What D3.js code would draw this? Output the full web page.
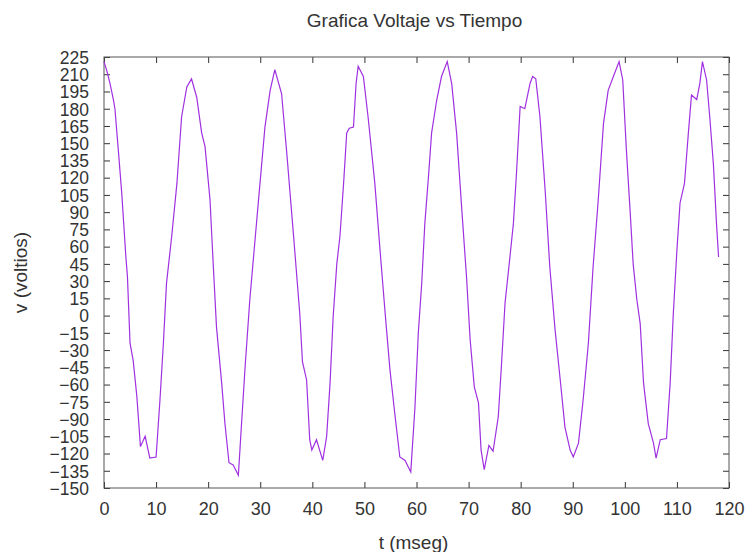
<!DOCTYPE html>
<html>
<head>
<meta charset="utf-8">
<script src="https://cdn.jsdelivr.net/npm/d3@7"></script>
<style>
  body { margin: 0; background: #fff; }
  svg { font-family: "Liberation Sans", Arial, sans-serif; }
</style>
</head>
<body>
<div id="chart"></div>
<script>
// time (ms)
const tiempo = [
  0, 0.6, 1.15, 1.8, 2.1, 2.75, 3.4, 4.2, 4.5, 5.0,
  5.6, 6.3, 7.0, 7.9, 8.8, 10.0, 10.75, 11.4, 12.0, 13.0,
  14.0, 14.9, 15.9, 16.8, 17.8, 18.75, 19.4, 20.35, 21.0, 21.6,
  22.6, 23.2, 24.0, 24.8, 25.8, 26.3, 27.1, 28.0, 29.0, 29.95,
  30.9, 31.9, 32.8, 34.1, 35.1, 36.35, 37.6, 38.1, 38.9, 39.5,
  39.9, 40.8, 42.0, 42.75, 43.4, 44.0, 44.7, 45.3, 46.0, 46.6,
  47.1, 47.9, 48.4, 48.8, 49.8, 50.7, 52.0, 53.0, 54.0, 54.9,
  55.9, 56.8, 57.8, 58.9, 59.7, 60.35, 61.0, 61.6, 62.3, 62.9,
  63.9, 64.8, 65.9, 66.75, 67.7, 68.7, 69.6, 70.3, 71.1, 71.9,
  72.4, 73.0, 73.9, 74.7, 75.7, 76.3, 77.0, 77.8, 78.6, 79.2,
  79.9, 80.8, 81.8, 82.3, 82.9, 83.7, 84.7, 85.6, 86.6, 87.6,
  88.5, 89.5, 90.1, 91.1, 92.0, 93.0, 93.9, 94.9, 95.9, 96.8,
  97.8, 98.9, 99.6, 100.3, 101.0, 101.6, 102.3, 102.95, 103.6, 104.5,
  105.5, 106.0, 106.8, 108.0, 108.7, 109.3, 110.0, 110.6, 111.45, 112.2,
  112.8, 113.8, 114.4, 114.9, 115.7, 116.3, 117.0, 117.6, 118.0
];

// voltage (V)
const voltaje = [
  221, 212, 202, 188, 180, 144, 107, 51, 34, -24,
  -39, -70, -114, -105, -124, -123, -73, -24, 28, 69,
  115, 173, 199, 206, 190, 159, 147, 101, 42, -10,
  -59, -93, -128, -130, -139, -102, -44, 14, 66, 115,
  164, 196, 214, 193, 141, 72, 1, -40, -56, -108,
  -117, -108, -126, -105, -59, -1, 45, 69, 115, 159,
  163, 164, 202, 217, 208, 173, 115, 57, 1, -47,
  -88, -123, -126, -136, -80, -15, 28, 80, 121, 159,
  188, 208, 221, 202, 159, 92, 34, -21, -62, -76,
  -117, -134, -113, -118, -88, -44, 11, 45, 80, 124,
  182, 180, 202, 208, 206, 173, 109, 42, -12, -56,
  -97, -117, -123, -111, -73, -24, 42, 101, 167, 196,
  208, 221, 205, 144, 92, 45, 14, -7, -59, -94,
  -111, -124, -108, -107, -59, 1, 57, 98, 115, 159,
  192, 188, 202, 221, 205, 173, 132, 80, 51
];

const xTicks = d3.range(0, 121, 10);
const yTicks = d3.range(-150, 226, 15);

const data = tiempo.map((t, i) => ({t: t, v: voltaje[i]}));

const margin = {top: 57, right: 16, bottom: 64, left: 104};
const width = 745 - margin.left - margin.right;
const height = 552 - margin.top - margin.bottom;

const svg = d3.select('#chart')
  .append('svg')
  .attr('width', 745)
  .attr('height', 552);

const g = svg.append('g')
  .attr('transform', `translate(${margin.left},${margin.top})`);

const x = d3.scaleLinear().domain([0, 120]).range([0, width]);
const y = d3.scaleLinear().domain([-150, 225]).range([height, 0]);

// axes, ticks pointing inward like gnuplot
const xAxis = g.append('g')
  .attr('transform', `translate(0,${height})`)
  .call(d3.axisBottom(x).tickValues(xTicks).tickSize(-6).tickPadding(14));

const yAxis = g.append('g')
  .call(d3.axisLeft(y).tickValues(yTicks).tickSize(-6).tickPadding(15));

// mirrored ticks
const xTop = g.append('g')
  .call(d3.axisTop(x).tickValues(xTicks).tickSize(-6).tickFormat(''));

const yRight = g.append('g')
  .attr('transform', `translate(${width},0)`)
  .call(d3.axisRight(y).tickValues(yTicks).tickSize(-6).tickFormat(''));

[xAxis, yAxis, xTop, yRight].forEach(a => {
  a.select('.domain').remove();
  a.selectAll('line').attr('stroke', '#333');
  a.selectAll('text')
    .attr('fill', '#333')
    .style('font-size', '17.5px')
    .style('font-family', '"Liberation Sans", Arial, sans-serif');
});

xAxis.selectAll('text').style('font-size', '18px');
yAxis.selectAll('text').attr('dy', '0.36em');

// border
g.append('rect')
  .attr('width', width)
  .attr('height', height)
  .attr('fill', 'none')
  .attr('stroke', '#555')
  .attr('stroke-width', 1);

// signal
const line = d3.line()
  .x(d => x(d.t))
  .y(d => y(d.v));

g.append('path')
  .datum(data)
  .attr('fill', 'none')
  .attr('stroke', '#a030e0')
  .attr('stroke-width', 1.2)
  .attr('d', line);

// title and labels
svg.append('text')
  .attr('x', margin.left + width / 2 - 2)
  .attr('y', 27)
  .attr('text-anchor', 'middle')
  .attr('fill', '#333')
  .style('font-size', '19px')
  .text('Grafica Voltaje vs Tiempo');

svg.append('text')
  .attr('x', margin.left + width / 2 - 3)
  .attr('y', 549)
  .attr('text-anchor', 'middle')
  .attr('fill', '#333')
  .style('font-size', '19px')
  .text('t (mseg)');

svg.append('text')
  .attr('transform', `translate(27,${margin.top + height / 2}) rotate(-90)`)
  .attr('text-anchor', 'middle')
  .attr('fill', '#333')
  .style('font-size', '19px')
  .text('v (voltios)');
</script>
</body>
</html>
